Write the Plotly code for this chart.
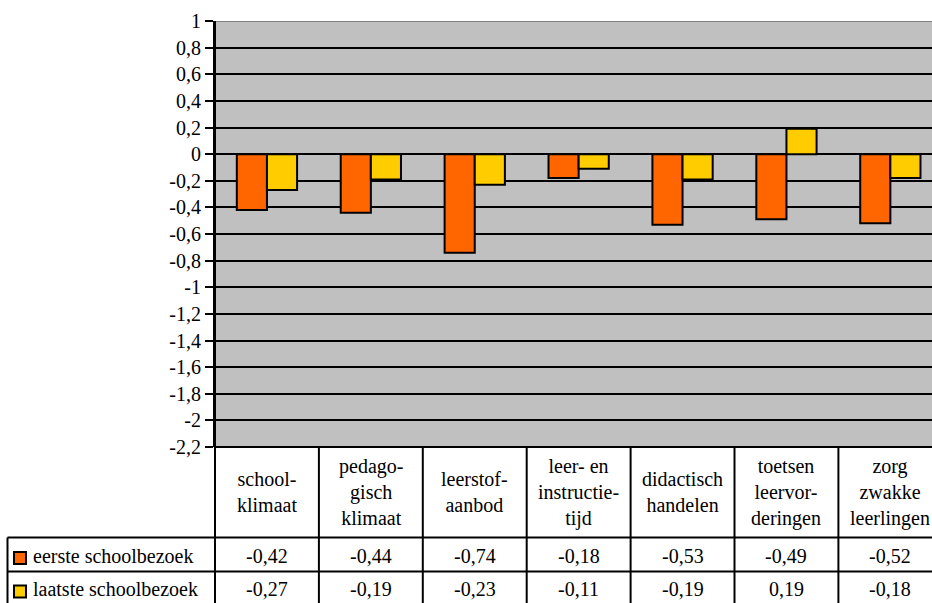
import plotly.graph_objects as go

# ---- data ----
categories = ["school-<br>klimaat", "pedago-<br>gisch<br>klimaat", "leerstof-<br>aanbod",
              "leer- en<br>instructie-<br>tijd", "didactisch<br>handelen",
              "toetsen<br>leervor-<br>deringen", "zorg<br>zwakke<br>leerlingen"]
series_names = ["eerste schoolbezoek", "laatste schoolbezoek"]
eerste = [-0.42, -0.44, -0.74, -0.18, -0.53, -0.49, -0.52]
laatste = [-0.27, -0.19, -0.23, -0.11, -0.19, 0.19, -0.18]
y_tick_values = [1, 0.8, 0.6, 0.4, 0.2, 0, -0.2, -0.4, -0.6, -0.8, -1, -1.2, -1.4,
                 -1.6, -1.8, -2, -2.2]
y_tick_labels = ["1", "0,8", "0,6", "0,4", "0,2", "0", "-0,2", "-0,4", "-0,6", "-0,8",
                 "-1", "-1,2", "-1,4", "-1,6", "-1,8", "-2", "-2,2"]

# ---- styling / geometry (page pixels) ----
W, H = 932, 603
ML = 215
MT = 21
PLOT_BOTTOM = 447
MB = H - PLOT_BOTTOM
MR = 0
PLOT_W = W - ML - MR
PLOT_H = H - MT - MB
FONT = "'Liberation Serif', 'Times New Roman', Times, 'DejaVu Serif', 'Liberation Sans', sans-serif"
FS = 20
ORANGE = "#FF6600"
YELLOW = "#FFCC00"
colors = [ORANGE, YELLOW]
COL_W = 103.9  # category width in px

def py(p):
    return (PLOT_BOTTOM - p) / PLOT_H

def px(p):
    return (p - ML) / PLOT_W

x_idx = list(range(len(categories)))

fig = go.Figure()
for name, vals, col in zip(series_names, [eerste, laatste], colors):
    fig.add_trace(go.Bar(x=x_idx, y=vals, name=name,
                         marker=dict(color=col, line=dict(color="black", width=2)),
                         showlegend=False, hoverinfo="skip"))

shapes = []
shapes.append(dict(type="line", xref="paper", yref="y", x0=0, x1=1, y0=1, y1=1,
                   line=dict(color="#808080", width=2), layer="above"))
shapes.append(dict(type="line", xref="paper", yref="paper", x0=0, x1=0, y0=1, y1=py(615),
                   line=dict(color="black", width=2)))
for i in range(len(categories) - 1):
    shapes.append(dict(type="line", xref="x", yref="paper", x0=i + 0.5, x1=i + 0.5,
                       y0=0, y1=py(615), line=dict(color="black", width=2)))
row_lines = [537.5, 571.5]
for r in row_lines:
    shapes.append(dict(type="line", xref="paper", yref="paper", x0=px(7.5), x1=1.02,
                       y0=py(r), y1=py(r), line=dict(color="black", width=2)))
shapes.append(dict(type="line", xref="paper", yref="paper", x0=px(7.5), x1=px(7.5),
                   y0=py(row_lines[0]), y1=py(615), line=dict(color="black", width=2)))
shapes.append(dict(type="line", xref="paper", yref="paper", x0=0, x1=1.02, y0=0, y1=0,
                   line=dict(color="black", width=2)))

annotations = []
header_center = 492
row_centers = [555.5, 589]
for i, cat in enumerate(categories):
    annotations.append(dict(xref="x", yref="paper", x=i, y=py(header_center), text=cat,
                            showarrow=False, xanchor="center", yanchor="middle",
                            font=dict(family=FONT, size=FS, color="black")))
for r, (name, vals, col) in enumerate(zip(series_names, [eerste, laatste], colors)):
    yc = row_centers[r]
    for i, v in enumerate(vals):
        annotations.append(dict(xref="x", yref="paper", x=i, y=py(yc),
                                text=f"{v:.2f}".replace(".", ","),
                                showarrow=False, xanchor="center", yanchor="middle",
                                font=dict(family=FONT, size=FS, color="black")))
    annotations.append(dict(xref="paper", yref="paper", x=px(31), y=py(yc), text=name,
                            showarrow=False, xanchor="left", yanchor="middle",
                            font=dict(family=FONT, size=FS, color="black")))
    ky = yc + 2.5
    shapes.append(dict(type="rect", xref="paper", yref="paper", x0=px(14), x1=px(26),
                       y0=py(ky - 6), y1=py(ky + 6), fillcolor=col,
                       line=dict(color="black", width=2)))

x_max = (W - ML) / COL_W - 0.5

fig.update_layout(
    width=W, height=H,
    margin=dict(l=ML, r=MR, t=MT, b=MB, pad=0),
    paper_bgcolor="white", plot_bgcolor="#C0C0C0",
    barmode="group", bargap=0.42, bargroupgap=0,
    font=dict(family=FONT, size=FS, color="black"),
    shapes=shapes, annotations=annotations,
    xaxis=dict(type="linear", range=[-0.5, x_max], showticklabels=False,
               showgrid=False, zeroline=False, ticks="", showline=False, fixedrange=True),
    yaxis=dict(range=[-2.2, 1], tickvals=y_tick_values, ticktext=y_tick_labels,
               showgrid=True, gridcolor="black", gridwidth=2,
               zeroline=True, zerolinecolor="black", zerolinewidth=2,
               showline=True, linecolor="black", linewidth=2,
               ticks="outside", ticklen=8, tickwidth=2, tickcolor="black",
               tickfont=dict(family=FONT, size=FS, color="black"), fixedrange=True),
)

fig.write_html("out.html", config={"displayModeBar": False},
               post_script="document.body.style.margin='0';document.body.style.overflow='hidden';")
